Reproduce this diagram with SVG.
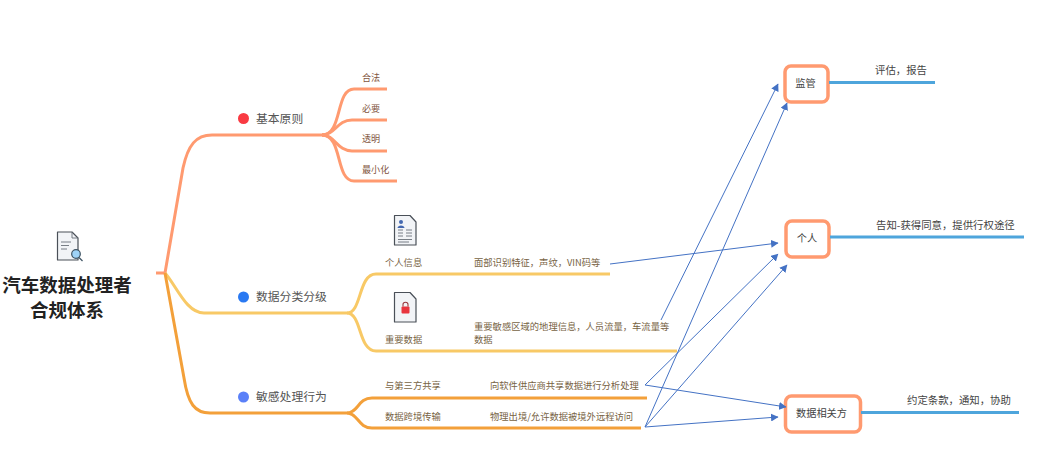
<svg xmlns="http://www.w3.org/2000/svg" width="1041" height="465" viewBox="0 0 1041 465">
<style>
text{font-family:"Noto Sans CJK SC","Liberation Sans",sans-serif;dominant-baseline:central;transform:translateY(-0.8px)}
.title{font-size:18.5px;font-weight:700;fill:#222;text-anchor:middle}
.topic{font-size:11.8px;fill:#555}
.leaf1{font-size:9.1px;fill:#7f5540}
.leaf2{font-size:9.3px;fill:#776344}
.nl{font-size:10.2px;fill:#444;text-anchor:middle}
.rt{font-size:10.4px;fill:#444}
.br{fill:none;stroke-width:3;stroke-linecap:butt}
.c1{stroke:#ff9a70}.c2{stroke:#f8c966}.c3{stroke:#f3a03a}
.box{fill:#fff;stroke:#ff9a70;stroke-width:3.500}
.bar{stroke:#4ea5dc;stroke-width:3.200}
.ln{stroke:#4472c4;stroke-width:1;fill:none;marker-end:url(#arr)}
.ic{fill:#f2f4f7;stroke:#4a5058;stroke-width:1.200;stroke-linejoin:round}
.il{stroke:#6a7078;stroke-width:.9;fill:none}
</style>
<defs>
<marker id="arr" markerUnits="userSpaceOnUse" markerWidth="8" markerHeight="8" refX="7" refY="4" orient="auto"><path d="M0 0L7.500 4L0 8Z" fill="#4472c4"/></marker>
</defs>
<g id="branches">
<path class="br c1" d="M156 273H165L183 168C188 145 196 135 212 135H322C343 135 335 89 354 89H387"/>
<path class="br c1" d="M322 135C335 135 337 120 352 120H387"/>
<path class="br c1" d="M322 135C335 135 337 151 352 151H387"/>
<path class="br c1" d="M322 135C343 135 335 181 354 181H397"/>
<path class="br c2" d="M165 273C176 285 186 313 204 313H347C362 313 358 274 376 274H610"/>
<path class="br c2" d="M347 313C362 313 358 351 376 351H677"/>
<path class="br c3" d="M165 273L184 378C188 404 195 413 210 413H347C358 413 358 398 372 398H647"/>
<path class="br c3" d="M347 413C358 413 358 428 372 428H641"/>
</g>
<g id="root">
<g transform="translate(56,232)">
<path class="ic" d="M1.500 0H16L22 6V28H1.500Z"/>
<path class="il" d="M16 0V6H22M5 10H15M5 13.500H13M5 17H11"/>
<circle cx="20" cy="22" r="4.300" fill="#9fd3f7" stroke="#3f5464" stroke-width="1.200"/>
<path d="M23 25.500L26.500 29" stroke="#3f5464" stroke-width="1.300"/>
</g>
<text class="title" x="67" y="285">汽车数据处理者</text>
<text class="title" x="67" y="310">合规体系</text>
</g>
<g id="topic-basic">
<circle cx="243.500" cy="118.500" r="5.500" fill="#f93a42"/>
<text class="topic" x="256" y="118">基本原则</text>
<text class="leaf1" x="362" y="78">合法</text>
<text class="leaf1" x="362" y="109">必要</text>
<text class="leaf1" x="362" y="139">透明</text>
<text class="leaf1" x="362" y="170">最小化</text>
</g>
<g id="topic-class">
<circle cx="243.500" cy="297" r="5.500" fill="#2979f2"/>
<text class="topic" x="256" y="296.500">数据分类分级</text>
<g transform="translate(394,215)">
<path class="ic" d="M.5 .5H16L22 7V30H.5Z"/>
<circle cx="7" cy="7" r="2" fill="#4468b0"/><path d="M3.500 13C3.500 9.500 10.500 9.500 10.500 13Z" fill="#4468b0"/>
<path class="il" d="M4 15H9M12 15H18M4 18H9M12 18H18M4 21H9M12 21H18M4 24.500H18M4 27H15"/>
</g>
<text class="leaf2" x="385" y="262.500">个人信息</text>
<text class="leaf2" x="474" y="262.500">面部识别特征，声纹，VIN码等</text>
<g transform="translate(394,292)">
<path class="ic" d="M.5 .5H16L22 7V30H.5Z"/>
<rect x="7.500" y="14.500" width="8" height="7" rx="1" fill="#e8353e"/>
<path d="M9 14.500V12.500C9 9.500 14 9.500 14 12.500V14.500" fill="none" stroke="#9a3a40" stroke-width="1.100"/>
</g>
<text class="leaf2" x="385" y="339.500">重要数据</text>
<text class="leaf2" x="474" y="327">重要敏感区域的地理信息，人员流量，车流量等</text>
<text class="leaf2" x="474" y="339.500">数据</text>
</g>
<g id="topic-sensitive">
<circle cx="243.500" cy="397" r="5.500" fill="#5a80f8"/>
<text class="topic" x="256" y="396.500">敏感处理行为</text>
<text class="leaf2" x="385" y="386">与第三方共享</text>
<text class="leaf2" x="490" y="386">向软件供应商共享数据进行分析处理</text>
<text class="leaf2" x="385" y="416.500">数据跨境传输</text>
<text class="leaf2" x="490" y="416.500">物理出境/允许数据被境外远程访问</text>
</g>
<g id="node-regulator">
<rect class="box" x="785" y="66" width="43" height="36" rx="6"/>
<path class="bar" d="M829 82.500H935"/>
<text class="nl" x="805.500" y="83">监管</text>
<text class="rt" x="875" y="70">评估，报告</text>
</g>
<g id="node-person">
<rect class="box" x="786" y="221" width="43" height="36" rx="6"/>
<path class="bar" d="M830 237H1024"/>
<text class="nl" x="807" y="238">个人</text>
<text class="rt" x="876" y="225">告知-获得同意，提供行权途径</text>
</g>
<g id="node-party">
<rect class="box" x="785.500" y="396" width="75" height="36" rx="6"/>
<path class="bar" d="M861 412.500H1019"/>
<text class="nl" x="821.500" y="413">数据相关方</text>
<text class="rt" x="907" y="400">约定条款，通知，协助</text>
</g>
<g id="connectors">
<path class="ln" d="M610 264L778 243"/>
<path class="ln" d="M661 320L778 84"/>
<path class="ln" d="M645 385L778 254"/>
<path class="ln" d="M645 385L786 407"/>
<path class="ln" d="M645 427L787 265"/>
<path class="ln" d="M645 427L787 103"/>
<path class="ln" d="M645 427L778 417"/>
</g>
</svg>
